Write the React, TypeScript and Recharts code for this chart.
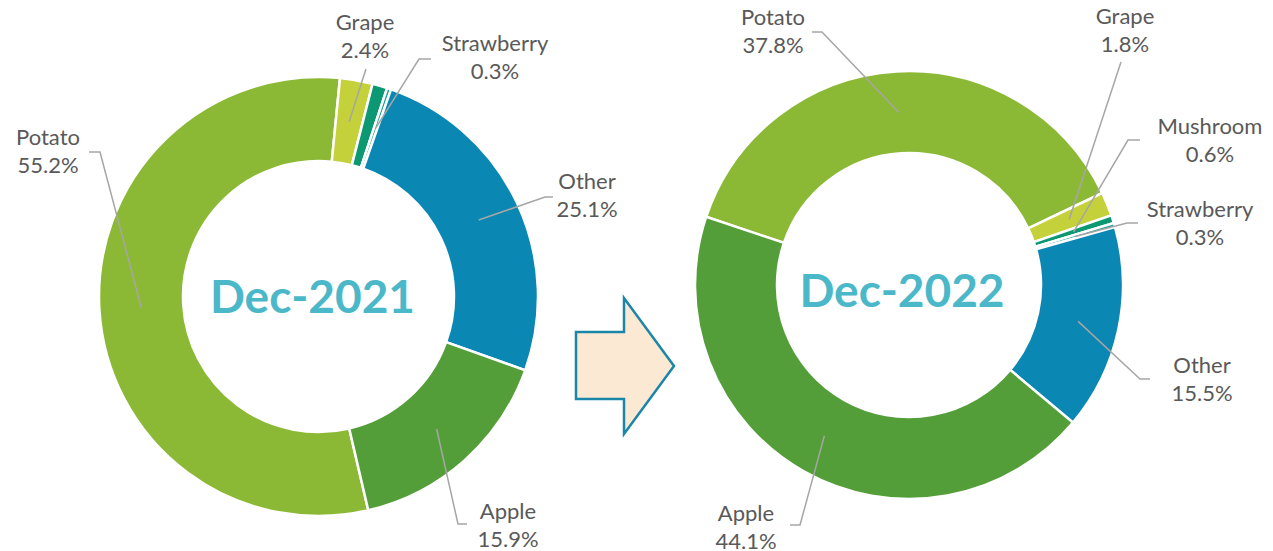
import React from 'react';
import { PieChart, Pie, Cell } from 'recharts';

// slice order is clockwise, starting with Potato
const categories = ['Potato', 'Grape', 'Mushroom', 'Strawberry', 'Other', 'Apple'];
const share2021 = [55.2, 2.4, 1.1, 0.3, 25.1, 15.9];
const share2022 = [37.8, 1.8, 0.6, 0.3, 15.5, 44.1];
const shown2021 = [true, true, false, true, true, true];
const shown2022 = [true, true, true, true, true, true];
const titles = ['Dec-2021', 'Dec-2022'];

const COLORS = ['#8CB935', '#C4D13B', '#0C9872', '#16A08E', '#0B87B3', '#549E39'];
const LABEL_FONT = 'Lato, "Open Sans", sans-serif';

// label placement relative to the pie centre: text centre, elbow point, line end
type LabelPos = { tx: number; ty: number; ex: number; ey: number; sx: number; sy: number } | null;
const layout2021: LabelPos[] = [
  { tx: -270.5, ty: -144.5, ex: -218.5, ey: -144.5, sx: -229.5, sy: -144.5 },
  { tx: 46.5, ty: -259.5, ex: 47.5, ey: -227.5, sx: 47.5, sy: -227.5 },
  null,
  { tx: 176.5, ty: -238.5, ex: 100.5, ey: -237.5, sx: 112.5, sy: -237.5 },
  { tx: 268.5, ty: -100.5, ex: 226.5, ey: -99.5, sx: 234.5, sy: -99.5 },
  { tx: 189.5, ty: 229.5, ex: 139.5, ey: 227.5, sx: 148.5, sy: 227.5 },
];
const layout2022: LabelPos[] = [
  { tx: -136, ty: -253, ex: -87, ey: -253, sx: -97, sy: -253 },
  { tx: 216, ty: -254, ex: 212, ey: -223, sx: 212, sy: -223 },
  { tx: 301, ty: -144, ex: 219, ey: -145, sx: 231, sy: -145 },
  { tx: 291, ty: -61, ex: 218, ey: -62, sx: 229, sy: -62 },
  { tx: 293, ty: 95, ex: 231, ey: 94, sx: 241, sy: 94 },
  { tx: -163, ty: 243, ex: -109, ey: 240, sx: -119, sy: 240 },
];

const makeRows = (values: number[], shown: boolean[]) =>
  categories.map((name, i) => ({ name, value: values[i], shown: shown[i] }));

const RAD = Math.PI / 180;

const makeLabel = (layout: LabelPos[]) => (props: any) => {
  const { cx, cy, midAngle, innerRadius, outerRadius, index, payload } = props;
  const pos = layout[index];
  if (!pos || !payload.shown) return null;
  const r = (innerRadius + outerRadius) / 2;
  const px = cx + r * Math.cos(-midAngle * RAD);
  const py = cy + r * Math.sin(-midAngle * RAD);
  const tx = cx + pos.tx;
  const ty = cy + pos.ty;
  return (
    <g>
      <polyline
        points={`${px},${py} ${cx + pos.ex},${cy + pos.ey} ${cx + pos.sx},${cy + pos.sy}`}
        fill="none" stroke="#A6A6A6" strokeWidth={1.5} />
      <text x={tx} y={ty} textAnchor="middle" fill="#595959" fontSize={22} fontFamily={LABEL_FONT}>
        <tspan x={tx} dy={-7}>{payload.name}</tspan>
        <tspan x={tx} dy={28}>{payload.value.toFixed(1)}%</tspan>
      </text>
    </g>
  );
};

export default function App() {
  const left = { cx: 318.5, cy: 296.5, inner: 135.5, outer: 219.5, start: 90 - 166.9 };
  const right = { cx: 909, cy: 285, inner: 132, outer: 214, start: 90 - 288.6 };
  return (
    <div style={{ position: 'absolute', left: 0, top: 0, width: 1273, height: 551, background: '#fff' }}>
      <svg width={1273} height={551} style={{ position: 'absolute', left: 0, top: 0 }}>
        <polygon points="576,332 624,332 624,298 674,366 624,434 624,399 576,399"
          fill="#FBE9D4" stroke="#1A86A8" strokeWidth={2.5} />
      </svg>
      <div style={{ position: 'absolute', left: 0, top: 0 }}>
        <PieChart width={1273} height={551} margin={{ top: 0, right: 0, bottom: 0, left: 0 }}>
          <Pie data={makeRows(share2021, shown2021)} dataKey="value" nameKey="name"
            cx={left.cx} cy={left.cy} innerRadius={left.inner} outerRadius={left.outer}
            startAngle={left.start} endAngle={left.start - 360}
            stroke="#fff" strokeWidth={2.5} label={makeLabel(layout2021)} labelLine={false}
            isAnimationActive={false}>
            {categories.map((c, i) => <Cell key={c} fill={COLORS[i]} />)}
          </Pie>
          <Pie data={makeRows(share2022, shown2022)} dataKey="value" nameKey="name"
            cx={right.cx} cy={right.cy} innerRadius={right.inner} outerRadius={right.outer}
            startAngle={right.start} endAngle={right.start - 360}
            stroke="#fff" strokeWidth={2.5} label={makeLabel(layout2022)} labelLine={false}
            isAnimationActive={false}>
            {categories.map((c, i) => <Cell key={c} fill={COLORS[i]} />)}
          </Pie>
        </PieChart>
      </div>
      <svg width={1273} height={551} style={{ position: 'absolute', left: 0, top: 0, pointerEvents: 'none' }}>
        <text x={312.5} y={313} textAnchor="middle" fill="#4BB8C9" fontSize={46} fontWeight={700}
          fontFamily={LABEL_FONT}>{titles[0]}</text>
        <text x={902} y={307} textAnchor="middle" fill="#4BB8C9" fontSize={46} fontWeight={700}
          fontFamily={LABEL_FONT}>{titles[1]}</text>
      </svg>
    </div>
  );
}
